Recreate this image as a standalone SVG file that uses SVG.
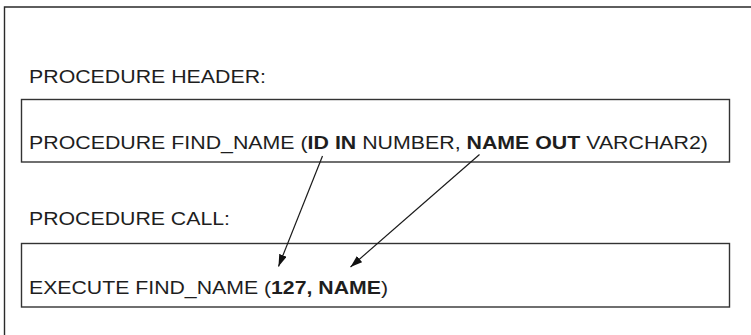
<svg xmlns="http://www.w3.org/2000/svg" width="751" height="335" viewBox="0 0 751 335">
<style>
.frame{fill:none;stroke:#2a2a2a;stroke-width:1.4}
.box{fill:#fff;stroke:#333;stroke-width:1.4}
.t{font-family:"Liberation Sans",Arial,Helvetica,sans-serif;font-size:18.5px;fill:#1e1e1e}
.b{font-weight:bold}
.conn{stroke:#1a1a1a;stroke-width:1.2;fill:none}
</style>
<defs>
<marker id="arr" viewBox="0 0 12 8" refX="12" refY="4" markerWidth="12" markerHeight="8" markerUnits="userSpaceOnUse" orient="auto">
<path d="M0,0 L12,4 L0,8 Z" fill="#111"/>
</marker>
</defs>
<rect width="751" height="335" fill="#fff"/>
<g id="frame">
<path class="frame" d="M4.5,340 V7 H760"/>
</g>
<g id="header-label">
<text class="t" x="29" y="82.5" textLength="237" lengthAdjust="spacingAndGlyphs">PROCEDURE HEADER:</text>
</g>
<g id="header-box">
<rect class="box" x="21.5" y="99.5" width="708" height="62.5"/>
<text class="t" x="29" y="149.3" textLength="679" lengthAdjust="spacingAndGlyphs">PROCEDURE FIND_NAME (<tspan class="b">ID IN</tspan> NUMBER, <tspan class="b">NAME OUT</tspan> VARCHAR2)</text>
</g>
<g id="call-label">
<text class="t" x="29" y="225" textLength="201" lengthAdjust="spacingAndGlyphs">PROCEDURE CALL:</text>
</g>
<g id="call-box">
<rect class="box" x="21.5" y="243.5" width="708" height="63.5"/>
<text class="t" x="29" y="294.3" textLength="359" lengthAdjust="spacingAndGlyphs">EXECUTE FIND_NAME (<tspan class="b">127, NAME</tspan>)</text>
</g>
<g id="connectors">
<line class="conn" x1="322.5" y1="156" x2="278.5" y2="266.5" marker-end="url(#arr)"/>
<line class="conn" x1="479.5" y1="154.5" x2="350.5" y2="267" marker-end="url(#arr)"/>
</g>
</svg>
